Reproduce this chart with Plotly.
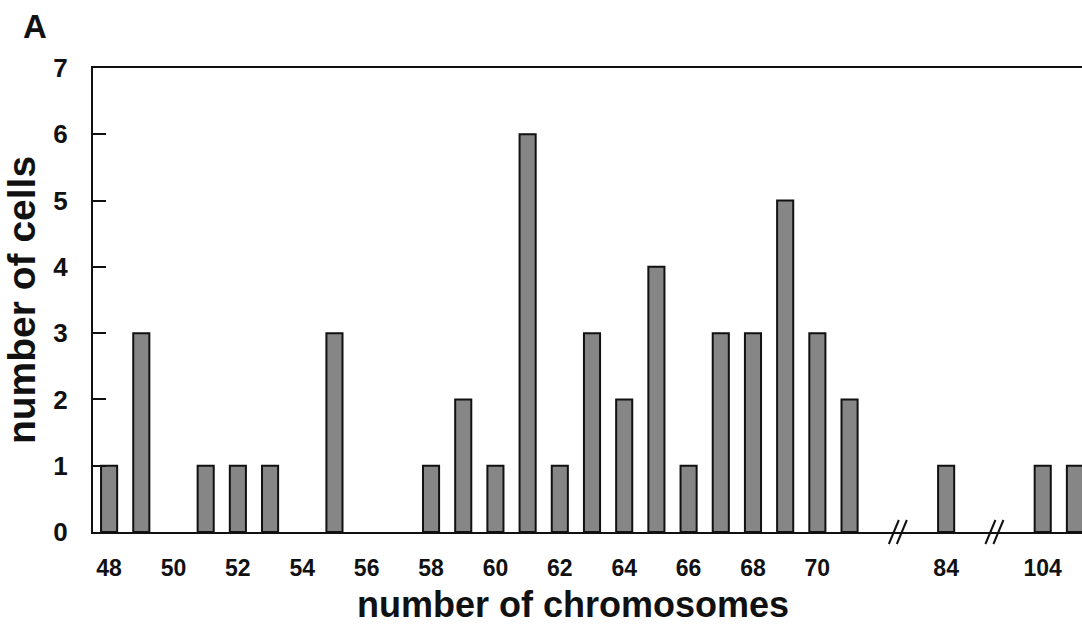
import plotly.graph_objects as go

# ---- data ----
chromosomes = [48, 49, 51, 52, 53, 55, 58, 59, 60, 61, 62, 63, 64, 65, 66, 67, 68, 69, 70, 71, 84, 104, 105]
cells = [1, 3, 1, 1, 1, 3, 1, 2, 1, 6, 1, 3, 2, 4, 1, 3, 3, 5, 3, 2, 1, 1, 1]
tick_labels = ["48", "50", "52", "54", "56", "58", "60", "62", "64", "66", "68", "70", "84", "104"]
y_ticks = [0, 1, 2, 3, 4, 5, 6, 7]

# broken x axis: value ranges that are shown, gaps collapsed between them
segments = [(48, 71), (84, 84), (104, 105)]
GAP = 3  # axis units from the end of one segment to the start of the next


def axis_pos(v):
    pos = segments[0][0]
    for i, (a, b) in enumerate(segments):
        if i > 0:
            pos += GAP
        if a <= v <= b:
            return pos + (v - a)
        pos += b - a
    raise ValueError(v)


seg_end_pos = [axis_pos(b) for a, b in segments]
seg_start_pos = [axis_pos(a) for a, b in segments]
break_pos = [(seg_end_pos[i] + seg_start_pos[i + 1]) / 2 for i in range(len(segments) - 1)]

xs = [axis_pos(c) for c in chromosomes]
tickvals = [axis_pos(int(t)) for t in tick_labels]

X0, X1 = 47.5, 78.22
FONT = "Liberation Sans, Arial, sans-serif"

fig = go.Figure()
fig.add_trace(go.Bar(
    x=xs, y=cells, width=0.5,
    marker=dict(color="#868686", line=dict(color="#111111", width=2)),
    hoverinfo="skip",
))

# break marks "//" on the x axis (paper coordinates so they are not clipped)
W, H = 1082, 626
ml, mr, mt, mb = 93, 0, 68, 94
pw = W - ml - mr
ph = H - mt - mb
shapes = []
for bp in break_pos:
    fx = (bp - X0) / (X1 - X0)
    dxo = 4 / pw
    dxs = 5 / pw
    dy = 12 / ph
    for off in (-dxo, dxo):
        shapes.append(dict(type="line", xref="paper", yref="paper",
                           x0=fx + off - dxs, y0=-dy, x1=fx + off + dxs, y1=dy,
                           line=dict(color="#111111", width=2)))

fig.update_layout(
    width=W, height=H,
    margin=dict(l=ml, r=mr, t=mt, b=mb),
    paper_bgcolor="white", plot_bgcolor="white",
    showlegend=False,
    shapes=shapes,
    font=dict(family=FONT, color="#111111"),
    xaxis=dict(
        range=[X0, X1], tickmode="array", tickvals=tickvals, ticktext=tick_labels,
        showline=True, linecolor="#111111", linewidth=2, mirror=True,
        showgrid=False, zeroline=False, ticks="",
        ticklabelstandoff=14,
        tickfont=dict(family=FONT, size=23, color="#111111", weight="bold"),
    ),
    yaxis=dict(
        range=[0, 7], tickmode="array", tickvals=y_ticks,
        showline=True, linecolor="#111111", linewidth=2, mirror=False,
        showgrid=False, zeroline=False,
        ticks="inside", ticklen=13, tickwidth=2, tickcolor="#111111",
        ticklabelstandoff=18,
        tickfont=dict(family=FONT, size=26, color="#111111", weight="bold"),
        title=dict(text="number of cells", standoff=16,
                   font=dict(family=FONT, size=39, color="#111111", weight="bold")),
    ),
    annotations=[
        dict(text="number of chromosomes", xref="paper", yref="paper",
             x=(573 - ml) / pw, y=-(604 - (H - mb)) / ph, xanchor="center", yanchor="middle",
             showarrow=False, font=dict(family=FONT, size=36, color="#111111", weight="bold")),
        dict(text="A", xref="paper", yref="paper",
             x=(21 - ml) / pw, y=1 + (mt - 26) / ph, xanchor="left", yanchor="middle",
             showarrow=False, font=dict(family=FONT, size=33, color="#111111", weight="bold")),
    ],
)

fig.write_html("out.html")
